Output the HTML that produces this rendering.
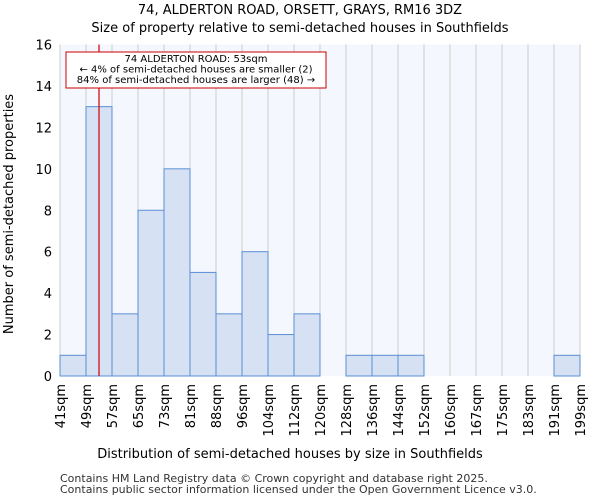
<!DOCTYPE html>
<html><head><meta charset="utf-8"><style>
body{margin:0;background:#fff;font-family:"DejaVu Sans","Liberation Sans",sans-serif}
</style></head><body>
<svg width="600" height="500" id="c" font-family="DejaVu Sans, Liberation Sans, sans-serif">
<text x="300" y="14" text-anchor="middle" font-size="13">74, ALDERTON ROAD, ORSETT, GRAYS, RM16 3DZ</text>
<text x="300" y="32" text-anchor="middle" font-size="13">Size of property relative to semi-detached houses in Southfields</text>
<rect x="60" y="44.5" width="520" height="331.5" fill="#f4f7fd"/>
<g id="grid"></g><g id="bars"></g><g id="axes"></g>
<text x="290" y="458" text-anchor="middle" font-size="13">Distribution of semi-detached houses by size in Southfields</text>
<text transform="translate(13,214) rotate(-90)" text-anchor="middle" font-size="13">Number of semi-detached properties</text>
<text x="60" y="482" font-size="11" fill="#333">Contains HM Land Registry data © Crown copyright and database right 2025.</text>
<text x="60" y="493" font-size="11" fill="#333">Contains public sector information licensed under the Open Government Licence v3.0.</text>
</svg>
<script>
const labels=["41sqm","49sqm","57sqm","65sqm","73sqm","81sqm","88sqm","96sqm","104sqm","112sqm","120sqm","128sqm","136sqm","144sqm","152sqm","160sqm","167sqm","175sqm","183sqm","191sqm","199sqm"];
const counts=[1,13,3,8,10,5,3,6,2,3,0,1,1,1,0,0,0,0,0,1];
const yTicks=[0,2,4,6,8,10,12,14,16];
const marker=53;
const ns="http://www.w3.org/2000/svg";
const X0=60,X1=580,Y0=376,Y1=44.5,YMAX=16;
const bw=(X1-X0)/counts.length;
const xs=i=>X0+i*bw;
const ys=v=>Y0-(Y0-Y1)*v/YMAX;
function mk(t,a,p){const e=document.createElementNS(ns,t);for(const k in a)e.setAttribute(k,a[k]);p.appendChild(e);return e;}
const g=document.getElementById('grid'),b=document.getElementById('bars'),ax=document.getElementById('axes');
yTicks.forEach(v=>{
const t=mk('text',{x:X0-8,y:ys(v)+5,'text-anchor':'end','font-size':13},ax);t.textContent=v;
});
labels.forEach((s,i)=>{const l=mk('line',{x1:xs(i),x2:xs(i),y1:Y1,y2:Y0,stroke:'#ccc'},g);

const t=mk('text',{transform:`translate(${xs(i)+5},${Y0+8}) rotate(-90)`,'text-anchor':'end','font-size':13},ax);t.textContent=s;
});
counts.forEach((v,i)=>{if(v<=0)return;const r=mk('rect',{x:xs(i),y:ys(v),width:bw,height:Y0-ys(v),fill:'#d6e2f3',stroke:'#5b8fd6','stroke-width':1},b);
});
const lo=parseFloat(labels[1]),hi=parseFloat(labels[2]);
const mx=xs(1)+(marker-lo)/(hi-lo)*bw;
const ml=mk('line',{x1:mx,x2:mx,y1:Y1,y2:Y0,stroke:'#c00','stroke-width':1.2},ax);

const box=mk('rect',{x:66,y:52,width:260,height:36,fill:'#fff',stroke:'#c00','stroke-width':1},ax);

["74 ALDERTON ROAD: 53sqm","← 4% of semi-detached houses are smaller (2)","84% of semi-detached houses are larger (48) →"].forEach((s,i)=>{
const t=mk('text',{x:196,y:62+i*10.5,'text-anchor':'middle','font-size':10},ax);t.textContent=s;
});
</script>
</body></html>
